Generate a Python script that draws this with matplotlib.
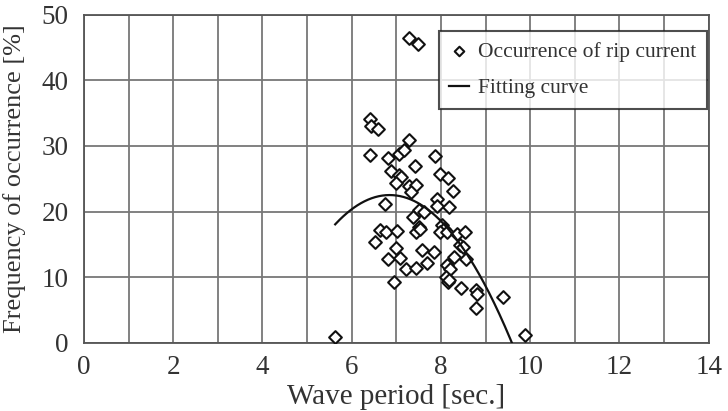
import numpy as np
import matplotlib
matplotlib.use("Agg")
import matplotlib.pyplot as plt

plt.rcParams['font.family'] = ['Liberation Serif', 'DejaVu Serif']

wave_period = [7.29, 7.48, 6.40, 6.43, 6.60, 7.28, 6.41, 6.81, 7.05, 7.17,
               7.87, 7.41, 6.88, 7.05, 7.11, 6.99, 7.98, 8.15, 7.28, 7.43,
               8.28, 7.33, 6.75, 7.92, 7.92, 8.17, 7.50, 7.61, 7.37, 8.02,
               8.06, 7.98, 8.13, 6.64, 6.77, 7.02, 7.50, 7.44, 7.54, 6.52,
               6.99, 7.57, 7.85, 8.36, 8.54, 8.43, 8.49, 6.82, 7.09, 7.22,
               7.44, 7.68, 8.30, 8.57, 8.13, 8.21, 8.12, 8.16, 8.18, 6.94,
               8.44, 8.79, 8.80, 8.78, 9.40, 9.89, 5.63]
frequency = [46.5, 45.5, 34.1, 33.0, 32.6, 30.9, 28.6, 28.1, 28.8, 29.4,
             28.4, 27.0, 26.2, 25.6, 25.2, 24.3, 25.7, 25.1, 23.9, 24.0,
             23.2, 22.9, 21.1, 21.9, 20.8, 20.7, 20.3, 20.0, 19.2, 17.9,
             17.4, 16.9, 16.9, 17.2, 16.8, 17.1, 17.6, 16.8, 17.3, 15.4,
             14.5, 14.2, 13.8, 16.5, 16.9, 14.9, 14.6, 12.7, 12.9, 11.3,
             11.4, 12.1, 13.1, 12.7, 11.8, 11.2, 10.0, 9.3, 9.5, 9.3,
             8.3, 8.1, 7.4, 5.3, 7.0, 1.2, 0.8]

# fitting curve y = a*x^2 + b*x + c
fit_a, fit_b, fit_c = -3.0, 41.1, -118.26
fit_xmin, fit_xmax = 5.63, 9.59

x_ticks = [0, 2, 4, 6, 8, 10, 12, 14]
y_ticks = [0, 10, 20, 30, 40, 50]

fig = plt.figure(figsize=(7.28, 4.11), dpi=100)
ax = fig.add_axes([0.1154, 0.1662, 0.858, 0.798])

ax.set_xlim(0, 14)
ax.set_ylim(0, 50)
ax.set_xticks(np.arange(0, 15, 1))
ax.set_xticklabels([str(t) if t in x_ticks else '' for t in range(15)])
ax.set_yticks(y_ticks)
ax.grid(True, color='#777777', linewidth=1.3)
ax.set_axisbelow(True)
ax.tick_params(length=0, labelsize=19.5, colors='#333333')
ax.tick_params(axis='x', pad=9)
ax.tick_params(axis='y', pad=11)
for s in ax.spines.values():
    s.set_color('#555555')
    s.set_linewidth(1.3)

xf = np.linspace(fit_xmin, fit_xmax, 200)
yf = fit_a * xf**2 + fit_b * xf + fit_c
ax.scatter(wave_period, frequency, marker='D', s=42, facecolors='white',
           edgecolors='#111111', linewidths=1.5, zorder=3,
           label='Occurrence of rip current')
ax.plot(xf, yf, color='#111111', linewidth=1.6, zorder=4, label='Fitting curve')

ax.set_xlabel('Wave period [sec.]', fontsize=21, color='#333333', labelpad=3)
ax.set_ylabel('Frequency of occurrence [%]', fontsize=19, color='#333333', labelpad=11)

leg = ax.legend(loc='upper right', bbox_to_anchor=(0.998, 0.95), fontsize=15.5,
                frameon=True, fancybox=False, edgecolor='#222222',
                handlelength=0.9, handletextpad=0.45, borderpad=0.5,
                labelspacing=0.75, borderaxespad=0.0, markerscale=0.75)
leg.get_frame().set_linewidth(1.5)
for t in leg.get_texts():
    t.set_color('#333333')

fig.savefig('out.png', dpi=100)
